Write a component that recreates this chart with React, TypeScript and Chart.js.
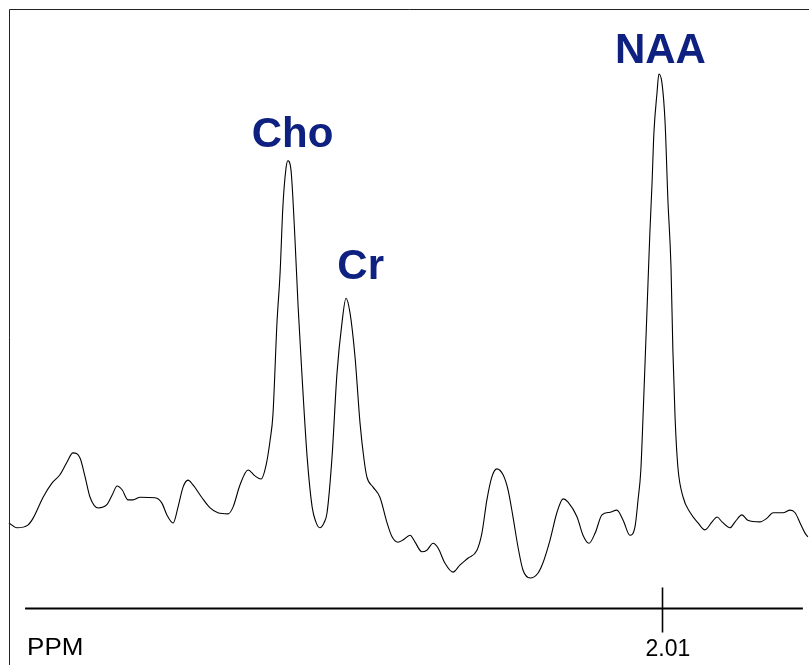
import React, { useEffect, useRef } from "react";
import { Chart, registerables } from "chart.js";

Chart.register(...registerables);

// Chemical shift (ppm), decreasing left to right
const ppm = [
  4.110, 4.084, 4.049, 4.032, 4.000, 3.971, 3.946, 3.923, 3.904, 3.881,
  3.865, 3.849, 3.823, 3.795, 3.778, 3.762, 3.746, 3.727, 3.711, 3.688,
  3.640, 3.618, 3.602, 3.582, 3.566, 3.550, 3.534, 3.518, 3.489, 3.463,
  3.438, 3.405, 3.389, 3.367, 3.341, 3.319, 3.299, 3.283, 3.270, 3.261,
  3.248, 3.238, 3.229, 3.219, 3.213, 3.203, 3.190, 3.180, 3.168, 3.151,
  3.135, 3.123, 3.110, 3.097, 3.087, 3.071, 3.055, 3.039, 3.026, 3.013,
  2.997, 2.981, 2.968, 2.959, 2.939, 2.917, 2.894, 2.878, 2.859, 2.843,
  2.820, 2.804, 2.782, 2.766, 2.746, 2.730, 2.708, 2.682, 2.660, 2.634,
  2.605, 2.589, 2.573, 2.557, 2.541, 2.521, 2.505, 2.489, 2.473, 2.457,
  2.434, 2.409, 2.393, 2.370, 2.348, 2.328, 2.312, 2.283, 2.264, 2.245,
  2.225, 2.203, 2.177, 2.155, 2.135, 2.113, 2.097, 2.087, 2.078, 2.071,
  2.065, 2.055, 2.049, 2.042, 2.036, 2.026, 2.020, 2.010, 2.000, 1.991,
  1.981, 1.975, 1.968, 1.959, 1.942, 1.920, 1.894, 1.872, 1.849, 1.833,
  1.817, 1.791, 1.775, 1.753, 1.734, 1.695, 1.672, 1.653, 1.621, 1.598,
  1.582, 1.566, 1.550, 1.541,
];

// Signal intensity (arbitrary units)
const intensity = [
  15.9, 15.0, 15.5, 16.8, 20.7, 23.4, 24.9, 27.3, 29.0, 28.0,
  24.5, 20.7, 18.7, 19.3, 21.1, 22.8, 22.1, 20.2, 20.2, 20.7,
  20.6, 19.6, 17.4, 15.9, 18.9, 22.6, 23.9, 23.0, 20.6, 18.7,
  17.8, 17.6, 18.9, 23.0, 25.8, 24.7, 24.1, 26.7, 31.4, 36.1,
  53.3, 62.6, 75.0, 82.2, 83.6, 81.9, 68.8, 56.3, 43.9, 28.2,
  18.9, 16.1, 15.0, 15.9, 17.8, 28.2, 43.9, 53.3, 57.9, 55.1,
  46.9, 34.6, 27.7, 24.5, 22.6, 20.7, 15.9, 13.3, 12.3, 12.7,
  13.6, 12.3, 10.5, 10.8, 12.1, 11.2, 8.4, 6.7, 8.0, 9.3,
  10.8, 14.0, 20.2, 24.5, 26.0, 24.9, 22.1, 17.0, 11.4, 7.1,
  5.6, 6.5, 8.4, 12.7, 17.8, 20.4, 19.8, 17.0, 13.6, 12.1,
  14.0, 17.4, 17.9, 18.3, 16.4, 13.6, 15.1, 20.2, 25.8, 35.7,
  45.0, 60.7, 70.1, 79.4, 88.8, 96.3, 99.8, 98.1, 90.7, 76.3,
  63.7, 48.2, 35.7, 26.4, 20.7, 17.9, 15.9, 14.6, 16.1, 17.0,
  16.1, 15.0, 16.1, 17.4, 16.4, 16.1, 16.8, 17.8, 17.8, 18.3,
  17.8, 15.9, 14.0, 13.3,
];

// Peak labels
const peakNames = ["Cho", "Cr", "NAA"];
const peakLabelPpm = [3.198, 2.979, 2.015];
const peakLabelIntensity = [86.2, 61.5, 101.9];

// Axis
const axisRange = [4.058, 1.557];
const tickPpm = [2.01];
const tickLabels = ["2.01"];
const axisTitle = "PPM";

const xMin = 1.5373;
const xMax = 4.1386;
const yMin = -10.654;
const yMax = 113.64;

const overlayPlugin = {
  id: "mrsOverlay",
  afterDraw(chart: any) {
    const { ctx } = chart;
    const xs = chart.scales.x;
    const ys = chart.scales.y;
    ctx.save();

    // frame
    ctx.strokeStyle = "#222";
    ctx.lineWidth = 1;
    ctx.beginPath();
    ctx.moveTo(9.5, 700);
    ctx.lineTo(9.5, 9.5);
    ctx.lineTo(900, 9.5);
    ctx.stroke();

    // axis line
    const y0 = Math.round(ys.getPixelForValue(0)) + 0.5;
    ctx.strokeStyle = "#000";
    ctx.lineWidth = 1.8;
    ctx.beginPath();
    ctx.moveTo(xs.getPixelForValue(axisRange[0]), y0);
    ctx.lineTo(xs.getPixelForValue(axisRange[1]), y0);
    ctx.stroke();

    // ticks
    ctx.font = '23px "Liberation Sans", Arial, sans-serif';
    ctx.fillStyle = "#000";
    ctx.textBaseline = "alphabetic";
    tickPpm.forEach((p, i) => {
      const tx = Math.round(xs.getPixelForValue(p)) + 0.5;
      ctx.lineWidth = 1.6;
      ctx.beginPath();
      ctx.moveTo(tx, y0 - 21);
      ctx.lineTo(tx, y0 + 24);
      ctx.stroke();
      ctx.textAlign = "left";
      ctx.fillText(tickLabels[i], tx - 17, y0 + 47);
    });

    // axis title (slightly wide face)
    ctx.save();
    ctx.translate(xs.getPixelForValue(axisRange[0]) + 2, y0 + 46);
    ctx.scale(1.13, 1);
    ctx.textAlign = "left";
    ctx.fillText(axisTitle, 0, 0);
    ctx.restore();

    // peak labels
    ctx.font = 'bold 42px "Liberation Sans", Arial, sans-serif';
    ctx.fillStyle = "#0e2180";
    ctx.textAlign = "center";
    peakNames.forEach((name, i) => {
      ctx.fillText(
        name,
        xs.getPixelForValue(peakLabelPpm[i]),
        ys.getPixelForValue(peakLabelIntensity[i])
      );
    });

    ctx.restore();
  },
};

export default function App() {
  const ref = useRef<HTMLCanvasElement | null>(null);

  useEffect(() => {
    if (!ref.current) return;
    const chart = new Chart(ref.current, {
      type: "line",
      data: {
        datasets: [
          {
            data: ppm.map((p, i) => ({ x: p, y: intensity[i] })),
            borderColor: "#000",
            borderWidth: 1.1,
            pointRadius: 0,
            fill: false,
            cubicInterpolationMode: "monotone",
          },
        ],
      },
      options: {
        animation: false,
        responsive: false,
        devicePixelRatio: 1,
        layout: { padding: 0 },
        plugins: {
          legend: { display: false },
          tooltip: { enabled: false },
        },
        scales: {
          x: { type: "linear", reverse: true, min: xMin, max: xMax, display: false },
          y: { type: "linear", min: yMin, max: yMax, display: false },
        },
      },
      plugins: [overlayPlugin],
    });
    return () => chart.destroy();
  }, []);

  return (
    <div style={{ position: "fixed", left: 0, top: 0, width: 809, height: 665, background: "#fff" }}>
      <canvas ref={ref} width={809} height={665} style={{ display: "block" }} />
    </div>
  );
}
